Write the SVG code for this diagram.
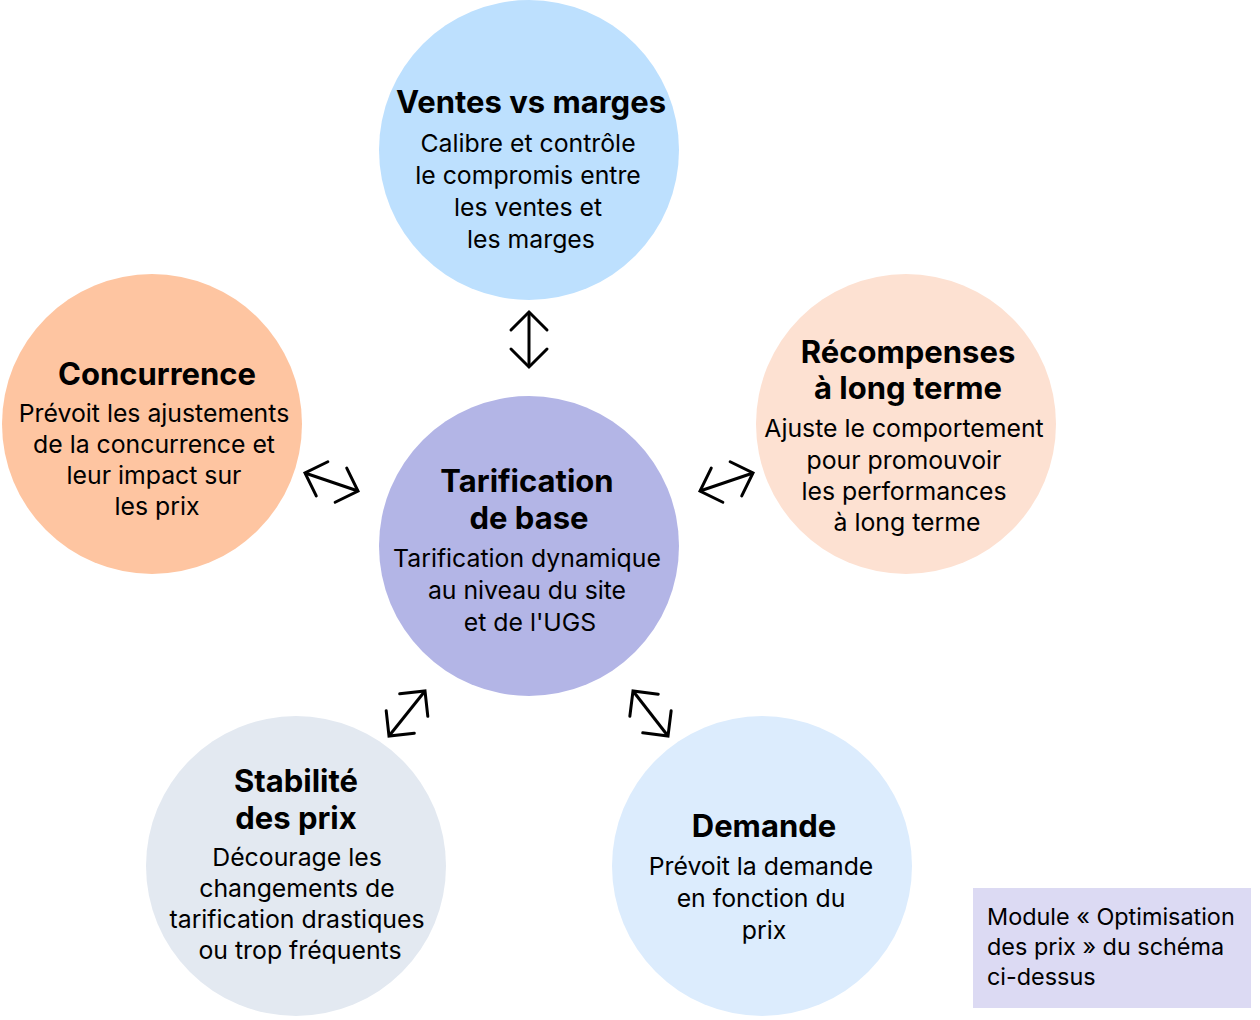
<svg xmlns="http://www.w3.org/2000/svg" width="1260" height="1020" viewBox="0 0 1260 1020">
<style>
text{font-family:Inter,"Noto Sans","Liberation Sans",sans-serif;fill:#000;text-anchor:middle}
.t{font-size:31px;font-weight:700}
.b{font-size:24.8px;font-weight:400}
.l{font-size:23.4px;text-anchor:start}
.conn{fill:none;stroke:#000;stroke-width:3;marker-start:url(#ah);marker-end:url(#ah)}
</style>
<defs>
<marker id="ah" markerUnits="userSpaceOnUse" markerWidth="50" markerHeight="50" viewBox="-25 -25 50 50" refX="0" refY="0" orient="auto-start-reverse">
<path d="M-18,-18 L0,0 L-18,18" fill="none" stroke="#000" stroke-width="3" stroke-linecap="round" stroke-linejoin="miter"/>
</marker>
</defs>
<rect width="1260" height="1020" fill="#fff"/>
<g id="connectors">
<line class="conn" x1="529" y1="312" x2="529" y2="367"/>
<line class="conn" x1="305" y1="473" x2="358" y2="491"/>
<line class="conn" x1="700" y1="491" x2="753" y2="473"/>
<line class="conn" x1="389" y1="736" x2="425" y2="691"/>
<line class="conn" x1="633" y1="691" x2="668" y2="736"/>
</g>
<g id="node-ventes">
<circle cx="529" cy="150" r="150" fill="#bde0fe"/>
<text class="t" x="531" y="113">Ventes vs marges</text>
<text class="b" x="528" y="152">Calibre et contrôle</text>
<text class="b" x="528" y="184">le compromis entre</text>
<text class="b" x="528" y="216">les ventes et</text>
<text class="b" x="531" y="248">les marges</text>
</g>
<g id="node-concurrence">
<circle cx="152" cy="424" r="150" fill="#fec5a1"/>
<text class="t" x="157" y="385">Concurrence</text>
<text class="b" x="154" y="422">Prévoit les ajustements</text>
<text class="b" x="154" y="453">de la concurrence et</text>
<text class="b" x="154" y="484">leur impact sur</text>
<text class="b" x="157" y="515">les prix</text>
</g>
<g id="node-base">
<circle cx="529" cy="546" r="150" fill="#b3b5e6"/>
<text class="t" x="527" y="492">Tarification</text>
<text class="t" x="529" y="529">de base</text>
<text class="b" x="527" y="567">Tarification dynamique</text>
<text class="b" x="527" y="599">au niveau du site</text>
<text class="b" x="530" y="631">et de l'UGS</text>
</g>
<g id="node-recompenses">
<circle cx="906" cy="424" r="150" fill="#fde1d2"/>
<text class="t" x="908" y="363">Récompenses</text>
<text class="t" x="908" y="399">à long terme</text>
<text class="b" x="904" y="437">Ajuste le comportement</text>
<text class="b" x="904" y="469">pour promouvoir</text>
<text class="b" x="904" y="500">les performances</text>
<text class="b" x="907" y="531">à long terme</text>
</g>
<g id="node-stabilite">
<circle cx="296" cy="866" r="150" fill="#e3e9f1"/>
<text class="t" x="296" y="792">Stabilité</text>
<text class="t" x="296" y="829">des prix</text>
<text class="b" x="297" y="866">Décourage les</text>
<text class="b" x="297" y="897">changements de</text>
<text class="b" x="297" y="928">tarification drastiques</text>
<text class="b" x="300" y="959">ou trop fréquents</text>
</g>
<g id="node-demande">
<circle cx="762" cy="866" r="150" fill="#dcecfd"/>
<text class="t" x="764" y="837">Demande</text>
<text class="b" x="761" y="875">Prévoit la demande</text>
<text class="b" x="761" y="907">en fonction du</text>
<text class="b" x="764" y="939">prix</text>
</g>
<g id="legend">
<rect x="973" y="888" width="278" height="120" fill="#dcdaf3"/>
<text class="l" x="987" y="925">Module « Optimisation</text>
<text class="l" x="987" y="955">des prix » du schéma</text>
<text class="l" x="987" y="985">ci-dessus</text>
</g>
</svg>
